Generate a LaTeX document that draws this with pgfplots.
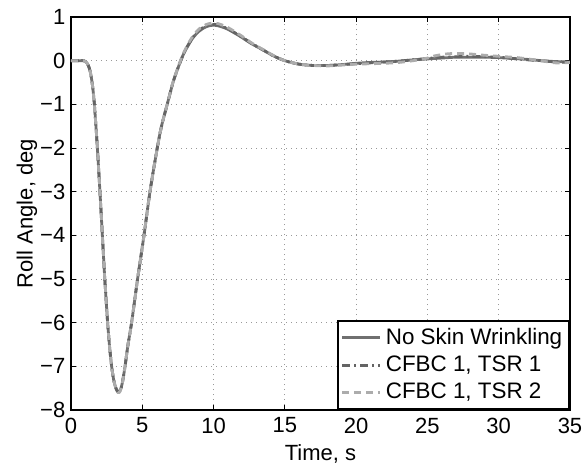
\documentclass[border=0pt]{standalone}
\usepackage{fontspec}
\setmainfont{Liberation Sans}
\usepackage{pgfplots}
\usepackage{pgfplotstable}
\pgfplotsset{compat=1.18}

\pgfplotstableread{
t y
0 0
0.6 0
0.9 0
1.05 -0.03
1.2 -0.1
1.35 -0.25
1.5 -0.55
1.64 -1.0
1.85 -2.0
2.03 -3.0
2.2 -4.0
2.37 -5.0
2.57 -6.0
2.72 -6.6
2.85 -7.0
3.0 -7.32
3.15 -7.5
3.3 -7.58
3.45 -7.55
3.6 -7.38
3.79 -7.0
4.0 -6.5
4.25 -6.0
4.67 -5.0
5.12 -4.0
5.54 -3.0
6.05 -2.0
6.35 -1.5
6.75 -1.0
7.2 -0.45
7.7 0.0
8.0 0.22
8.5 0.5
9.0 0.68
9.5 0.78
9.9 0.81
10.3 0.8
11.0 0.72
12.0 0.53
12.6 0.4
13.5 0.24
14.2 0.11
15.0 0.0
16.0 -0.08
17.0 -0.11
18.0 -0.11
19.0 -0.09
20.0 -0.06
21.0 -0.04
22.0 -0.03
23.0 -0.01
24.0 0.02
25.0 0.04
26.0 0.06
27.0 0.08
28.0 0.08
29.0 0.08
30.0 0.07
31.0 0.05
32.0 0.03
33.0 0.0
34.0 -0.02
35.0 -0.03
}\nowrinkle

\pgfplotstableread{
t y
0 0
0.6 0
0.9 0
1.05 -0.03
1.2 -0.1
1.35 -0.25
1.5 -0.55
1.64 -1.0
1.85 -2.0
2.03 -3.0
2.2 -4.0
2.37 -5.0
2.57 -6.0
2.72 -6.6
2.85 -7.0
3.0 -7.32
3.15 -7.5
3.3 -7.59
3.45 -7.56
3.6 -7.38
3.79 -7.0
4.0 -6.5
4.25 -6.0
4.67 -5.0
5.12 -4.0
5.54 -3.0
6.05 -2.0
6.35 -1.5
6.75 -1.0
7.2 -0.45
7.7 0.0
8.0 0.23
8.5 0.51
9.0 0.7
9.5 0.8
9.9 0.83
10.3 0.82
11.0 0.73
12.0 0.54
12.6 0.41
13.5 0.24
14.2 0.11
15.0 0.0
16.0 -0.08
17.0 -0.11
18.0 -0.11
19.0 -0.09
20.0 -0.07
21.0 -0.05
22.0 -0.03
23.0 -0.01
24.0 0.02
25.0 0.05
26.0 0.08
27.0 0.09
28.0 0.1
29.0 0.09
30.0 0.08
31.0 0.05
32.0 0.02
33.0 0.0
34.0 -0.03
35.0 -0.04
}\tsrone

\pgfplotstableread{
t y
0 0
0.6 0
0.9 0
1.05 -0.03
1.2 -0.1
1.35 -0.25
1.5 -0.55
1.64 -1.0
1.85 -2.0
2.03 -3.0
2.2 -4.0
2.37 -5.0
2.57 -6.0
2.72 -6.6
2.85 -7.0
3.0 -7.32
3.15 -7.5
3.3 -7.6
3.45 -7.57
3.6 -7.39
3.79 -7.0
4.0 -6.5
4.25 -6.0
4.67 -5.0
5.12 -4.0
5.54 -3.0
6.05 -2.0
6.35 -1.5
6.75 -1.0
7.2 -0.44
7.7 0.02
8.0 0.25
8.5 0.54
9.0 0.73
9.5 0.83
9.9 0.86
10.3 0.85
11.0 0.76
12.0 0.56
12.6 0.42
13.5 0.25
14.2 0.12
15.0 0.0
16.0 -0.08
17.0 -0.11
18.0 -0.12
19.0 -0.1
20.0 -0.08
21.0 -0.07
22.0 -0.06
23.0 -0.04
24.0 0.0
25.0 0.06
25.5 0.11
26.5 0.16
27.7 0.16
28.8 0.13
30.0 0.1
31.3 0.07
32.5 0.02
34.0 -0.05
35.0 -0.04
}\tsrtwo

\definecolor{cSolid}{RGB}{112,112,112}
\definecolor{cDashDot}{RGB}{100,100,100}
\definecolor{cDash}{RGB}{172,172,172}

\begin{document}
\fontsize{11}{13.2}\selectfont
\begin{tikzpicture}
\useasboundingbox (-35.5pt,-26pt) rectangle (256.5pt,205pt);
\begin{axis}[
  at={(0pt,0pt)}, anchor=south west,
  scale only axis,
  width=249.5pt, height=196.5pt,
  xmin=0, xmax=35, ymin=-8, ymax=1,
  xtick={0,5,...,35},
  ytick={-8,-7,...,1},
  yticklabels={−8,−7,−6,−5,−4,−3,−2,−1,0,1},
  /pgf/number format/assume math mode=true,
  tick align=inside,
  ticks=both,
  xtick pos=both, ytick pos=both,
  major tick length=2.5pt,
  tick style={black, line width=0.5pt},
  axis line style={black, line width=0.7pt},
  grid=major,
  major grid style={gray!80, line width=0.5pt, dash pattern=on 0.5pt off 2pt},
  xlabel={Time, s},
  ylabel={Roll Angle, deg},
  every tick label/.append style={font=\fontsize{11}{13.2}\selectfont},
  yticklabel style={xshift=1pt},
  label style={font=\fontsize{11}{13.2}\selectfont},
  xlabel style={yshift=2pt},
  ylabel style={yshift=-6pt},
  legend style={at={(rel axis cs:1,0)}, anchor=south east,
    draw=black, line width=0.8pt, fill=white,
    font=\fontsize{11.2}{13.4}\selectfont,
    inner sep=1.5pt, row sep=0.2pt,
    legend cell align=left},
  legend image code/.code={\draw[#1] (0pt,0pt) -- (19pt,0pt);},
]
\addplot[cSolid, line width=1.4pt, smooth] table[x=t,y=y] {\nowrinkle};
\addlegendentry{No Skin Wrinkling}
\addplot[cDashDot, line width=1.4pt, smooth, dash pattern=on 4pt off 2pt on 1pt off 2pt] table[x=t,y=y] {\tsrone};
\addlegendentry{CFBC 1, TSR 1}
\addplot[cDash, line width=1.4pt, smooth, dash pattern=on 3.5pt off 2.5pt] table[x=t,y=y] {\tsrtwo};
\addlegendentry{CFBC 1, TSR 2}
\end{axis}
\end{tikzpicture}
\end{document}
